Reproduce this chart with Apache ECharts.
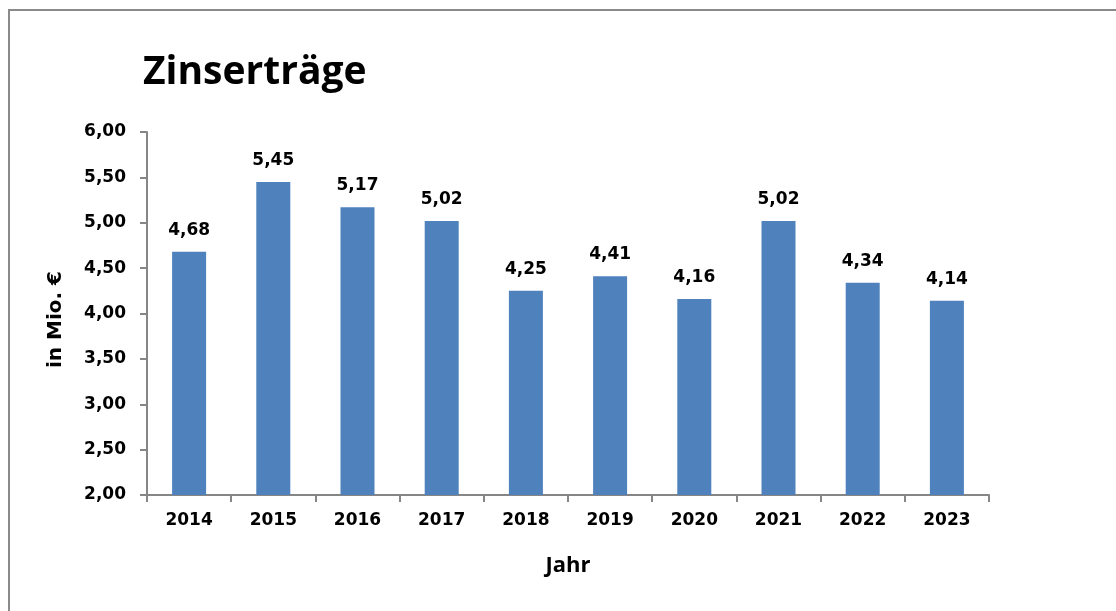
<!DOCTYPE html>
<html>
<head>
<meta charset="utf-8">
<script src="https://cdn.jsdelivr.net/npm/echarts@6/dist/echarts.min.js"></script>
<style>
  html, body { margin: 0; padding: 0; background: #fff; }
  #chart { width: 1116px; height: 611px; }
</style>
</head>
<body>
<div id="chart"></div>
<script>
// Zinserträge in Mio. €
var years = ['2014', '2015', '2016', '2017', '2018', '2019', '2020', '2021', '2022', '2023'];
var values = [4.68, 5.45, 5.17, 5.02, 4.25, 4.41, 4.16, 5.02, 4.34, 4.14];
var yTicks = { min: 2, max: 6, step: 0.5 };

var fmt = function (v) { return v.toFixed(2).replace('.', ','); };
var labelFont = 'DejaVu Sans';

var myChart = echarts.init(document.getElementById('chart'));
myChart.setOption({
  backgroundColor: '#fff',
  animation: false,
  graphic: [{
    type: 'rect',
    shape: { x: 9, y: 10, width: 1130, height: 620 },
    style: { fill: 'none', stroke: '#8a8a8a', lineWidth: 2 },
    z: 100
  }],
  title: {
    text: 'Zinserträge',
    left: 138,
    top: 48,
    textStyle: { fontFamily: 'Open Sans', fontWeight: 'bold', fontSize: 39, color: '#000' }
  },
  grid: { left: 147, right: 127, top: 132, bottom: 116 },
  xAxis: {
    type: 'category',
    data: years,
    name: 'Jahr',
    nameLocation: 'middle',
    nameGap: 60,
    nameTextStyle: { fontFamily: 'Open Sans', fontWeight: 'bold', fontSize: 22, color: '#000' },
    axisLine: { lineStyle: { color: '#868686', width: 2 } },
    axisTick: { show: true, length: 7, lineStyle: { color: '#868686', width: 2 } },
    axisLabel: { fontFamily: labelFont, fontWeight: 'bold', fontSize: 17, color: '#000', margin: 17 }
  },
  yAxis: {
    type: 'value',
    min: yTicks.min,
    max: yTicks.max,
    interval: yTicks.step,
    name: 'in Mio. €',
    nameLocation: 'middle',
    nameGap: 81,
    nameTextStyle: { fontFamily: labelFont, fontWeight: 'bold', fontSize: 20, color: '#000', padding: [0, 12, 0, 0] },
    splitLine: { show: false },
    axisLine: { show: true, lineStyle: { color: '#868686', width: 2 } },
    axisTick: { show: true, length: 7, lineStyle: { color: '#868686', width: 2 } },
    axisLabel: {
      fontFamily: labelFont, fontWeight: 'bold', fontSize: 17, color: '#000', margin: 21,
      formatter: fmt
    }
  },
  series: [{
    type: 'bar',
    data: values,
    barWidth: 34,
    itemStyle: { color: '#4F81BD' },
    label: {
      show: true,
      position: 'top',
      distance: 13,
      fontFamily: labelFont, fontWeight: 'bold', fontSize: 17, color: '#000',
      formatter: function (p) { return fmt(p.value); }
    }
  }]
});
</script>
</body>
</html>
